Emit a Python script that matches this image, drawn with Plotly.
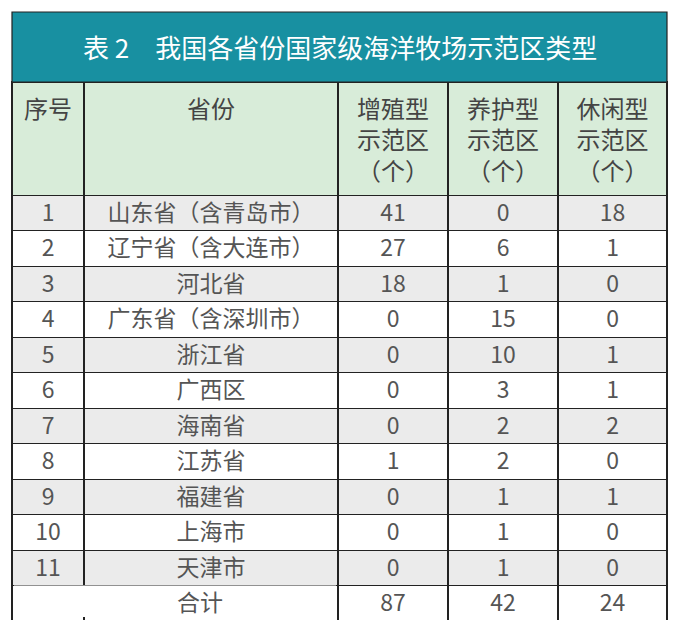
import plotly.graph_objects as go

title = "表 2　我国各省份国家级海洋牧场示范区类型"
headers = ["<br>序号", "<br>省份", "增殖型<br>示范区<br>（个）", "养护型<br>示范区<br>（个）", "休闲型<br>示范区<br>（个）"]
idx = [str(i) for i in range(1, 12)]
provinces = ["山东省（含青岛市）", "辽宁省（含大连市）", "河北省", "广东省（含深圳市）", "浙江省",
             "广西区", "海南省", "江苏省", "福建省", "上海市", "天津市"]
zengzhi = [41, 27, 18, 0, 0, 0, 0, 1, 0, 0, 0]
yanghu = [0, 6, 1, 15, 10, 3, 2, 2, 1, 1, 1]
xiuxian = [18, 1, 0, 0, 1, 1, 2, 0, 1, 0, 0]
total_label = "合计"
totals = [87, 42, 24]

# page body has an 8px margin; compensate
OFF = 8
L, T = 12 - OFF, 12 - OFF
pw, ph = 655, 608
R, B = 12, 12
W, H = L + pw + R, T + ph + B
title_bottom = 82
header_h = 111
row_h = 35.5

def px_x(x):
    return (x - 12) / pw
def px_y(y):
    return 1 - (y - 12) / ph

cols = [idx + [""], provinces + [""],
        [str(v) for v in zengzhi] + [str(totals[0])],
        [str(v) for v in yanghu] + [str(totals[1])],
        [str(v) for v in xiuxian] + [str(totals[2])]]
n = len(idx) + 1
fills = ["#ebebeb" if i % 2 == 0 else "white" for i in range(n - 1)] + ["white"]

fig = go.Figure(go.Table(
    columnwidth=[72, 254, 110, 110, 109],
    domain=dict(x=[0, 1], y=[0, px_y(title_bottom)]),
    header=dict(values=headers, height=header_h, align="center",
                fill_color="#d8ecd9", line=dict(color="#222", width=1.2),
                font=dict(family="Noto Sans CJK SC", size=24, color="#444")),
    cells=dict(values=cols, height=row_h, align="center",
               fill=dict(color=[fills] * 5), line=dict(color="#222", width=1.2),
               font=dict(family="Noto Sans CJK SC", size=23, color="#555")),
))

last_top = title_bottom + header_h + row_h * (n - 1)
last_bot = last_top + row_h
fig.add_shape(type="rect", xref="paper", yref="paper", layer="above",
              x0=px_x(14), x1=px_x(336), y0=px_y(last_bot - 2), y1=px_y(last_top + 2),
              fillcolor="white", line=dict(width=0))
fig.add_annotation(xref="paper", yref="paper", x=px_x(175), y=px_y(last_top + 17),
                   yanchor="middle", text=total_label, showarrow=False,
                   font=dict(family="Noto Sans CJK SC", size=23, color="#555"))
fig.add_shape(type="rect", xref="paper", yref="paper", layer="above",
              x0=0, x1=1, y0=px_y(title_bottom), y1=1,
              fillcolor="#1890a1", line=dict(color="#222", width=1.2))
fig.add_annotation(xref="paper", yref="paper", x=0.5, y=px_y((12 + title_bottom) / 2),
                   yanchor="middle", text=title, showarrow=False,
                   font=dict(family="Noto Sans CJK SC", size=26, color="white"))

fig.update_layout(width=W, height=H, margin=dict(l=L, r=R, t=T, b=B),
                  paper_bgcolor="white", plot_bgcolor="white")
fig.write_html("out.html")
